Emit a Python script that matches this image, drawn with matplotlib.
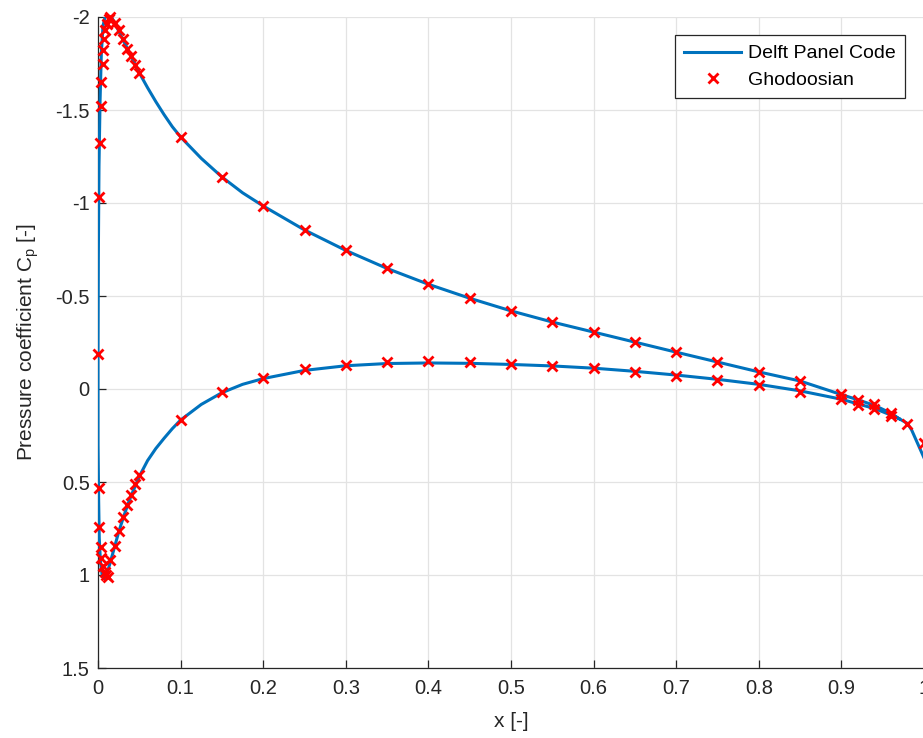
import matplotlib
matplotlib.use("Agg")
import matplotlib.pyplot as plt

plt.rcParams["font.family"] = ["Liberation Sans", "DejaVu Sans"]
plt.rcParams["mathtext.default"] = "regular"

# Delft panel code result: upper surface (TE -> LE), then lower surface (LE -> TE)
panel_upper_x = [1.0, 0.99, 0.985, 0.98, 0.97, 0.96, 0.94, 0.92, 0.9, 0.85, 0.8, 0.75,
                 0.7, 0.65, 0.6, 0.55, 0.5, 0.45, 0.4, 0.35, 0.3, 0.25, 0.2, 0.175, 0.15,
                 0.125, 0.1, 0.09, 0.08, 0.07, 0.06, 0.05, 0.04, 0.03, 0.02, 0.015, 0.01,
                 0.006, 0.004, 0.0025, 0.0012, 0.0004, 0.0]
panel_upper_cp = [0.37, 0.27, 0.22, 0.185, 0.16, 0.13, 0.088, 0.058, 0.03, -0.043, -0.092,
                  -0.145, -0.198, -0.252, -0.306, -0.36, -0.42, -0.488, -0.563, -0.648,
                  -0.745, -0.855, -0.984, -1.055, -1.14, -1.24, -1.355, -1.41, -1.475,
                  -1.545, -1.62, -1.70, -1.79, -1.88, -1.97, -2.01, -2.03, -1.95, -1.8,
                  -1.55, -1.2, -0.7, -0.2]
panel_lower_x = [0.0, 0.0008, 0.0015, 0.003, 0.005, 0.008, 0.011, 0.015, 0.02, 0.025,
                 0.03, 0.035, 0.04, 0.05, 0.06, 0.07, 0.08, 0.09, 0.1, 0.125, 0.15, 0.175,
                 0.2, 0.25, 0.3, 0.35, 0.4, 0.45, 0.5, 0.55, 0.6, 0.65, 0.7, 0.75, 0.8,
                 0.85, 0.9, 0.94, 0.96, 0.97]
panel_lower_cp = [0.3, 0.6, 0.8, 0.93, 1.0, 1.02, 0.99, 0.93, 0.85, 0.77, 0.70, 0.635,
                  0.575, 0.47, 0.385, 0.32, 0.265, 0.213, 0.167, 0.083, 0.02, -0.025,
                  -0.056, -0.1, -0.125, -0.137, -0.14, -0.138, -0.132, -0.124, -0.112,
                  -0.095, -0.075, -0.052, -0.025, 0.01, 0.055, 0.105, 0.14, 0.16]

# Ghodoosian reference data
ghod_upper_x = [0.0, 0.0008, 0.0028, 0.0036, 0.0042, 0.0055, 0.0065, 0.0078, 0.009,
                0.0105, 0.013, 0.015, 0.02, 0.025, 0.03, 0.035, 0.04, 0.045, 0.05, 0.1,
                0.15, 0.2, 0.25, 0.3, 0.35, 0.4, 0.45, 0.5, 0.55, 0.6, 0.65, 0.7, 0.75,
                0.8, 0.85, 0.9, 0.92, 0.94, 0.96, 0.98, 1.0]
ghod_upper_cp = [-0.19, -1.03, -1.32, -1.52, -1.65, -1.75, -1.82, -1.88, -1.93, -1.96,
                 -1.99, -2.0, -1.97, -1.93, -1.88, -1.83, -1.79, -1.74, -1.70, -1.355,
                 -1.14, -0.984, -0.855, -0.747, -0.65, -0.565, -0.49, -0.42, -0.36,
                 -0.306, -0.253, -0.199, -0.145, -0.091, -0.043, 0.027, 0.059, 0.081,
                 0.129, 0.19, 0.29]
ghod_lower_x = [0.0016, 0.0016, 0.0036, 0.004, 0.0057, 0.008, 0.0096, 0.012, 0.015, 0.02,
                0.025, 0.03, 0.035, 0.04, 0.045, 0.05, 0.1, 0.15, 0.2, 0.25, 0.3, 0.35,
                0.4, 0.45, 0.5, 0.55, 0.6, 0.65, 0.7, 0.75, 0.8, 0.85, 0.9, 0.92, 0.94,
                0.96]
ghod_lower_cp = [0.53, 0.74, 0.85, 0.91, 0.95, 0.985, 1.0, 1.01, 0.92, 0.845, 0.765, 0.69,
                 0.625, 0.57, 0.51, 0.465, 0.167, 0.016, -0.059, -0.108, -0.129, -0.145,
                 -0.15, -0.145, -0.134, -0.124, -0.113, -0.091, -0.07, -0.048, -0.021,
                 0.016, 0.054, 0.086, 0.108, 0.145]

x_ticks = [0, 0.1, 0.2, 0.3, 0.4, 0.5, 0.6, 0.7, 0.8, 0.9, 1]
x_tick_labels = ["0", "0.1", "0.2", "0.3", "0.4", "0.5", "0.6", "0.7", "0.8", "0.9", "1"]
y_ticks = [-2, -1.5, -1, -0.5, 0, 0.5, 1, 1.5]
y_tick_labels = ["-2", "-1.5", "-1", "-0.5", "0", "0.5", "1", "1.5"]

W, H = 923, 738
fig = plt.figure(figsize=(W / 100, H / 100), dpi=100)
ax = fig.add_axes([98 / W, 1 - 668 / H, (924 - 98) / W, (668 - 17) / H])

line_x = panel_upper_x + panel_lower_x
line_cp = panel_upper_cp + panel_lower_cp
ax.plot(line_x, line_cp, color="#0072BD", lw=2.2, label="Delft Panel Code", zorder=3)
ax.plot(ghod_upper_x + ghod_lower_x, ghod_upper_cp + ghod_lower_cp, ls="none",
        marker="x", ms=7, mew=2, color="#FF0000", label="Ghodoosian", zorder=4,
        clip_on=False)

ax.set_xlim(0, 1)
ax.set_ylim(1.5, -2)
ax.set_xticks(x_ticks)
ax.set_xticklabels(x_tick_labels)
ax.set_yticks(y_ticks)
ax.set_yticklabels(y_tick_labels)

ax.grid(True, color="#e3e3e3", lw=0.9)
ax.set_axisbelow(True)
for side in ["top", "right"]:
    ax.spines[side].set_visible(False)
for side in ["left", "bottom"]:
    ax.spines[side].set_color("#262626")
    ax.spines[side].set_linewidth(0.9)
ax.tick_params(direction="in", length=6, width=0.9, color="#262626",
               labelcolor="#262626", labelsize=14.5)
ax.tick_params(axis="x", pad=8)
ax.tick_params(axis="y", pad=6)

ax.set_xlabel("x [-]", fontsize=15, color="#262626", labelpad=10)
ax.set_ylabel("Pressure coefficient C$_p$ [-]", fontsize=15, color="#262626", labelpad=10)

leg = ax.legend(loc="upper right", bbox_to_anchor=(905 / W, 1 - 35 / H),
                bbox_transform=fig.transFigure, borderaxespad=0, fontsize=14,
                handlelength=2.9, handletextpad=0.35, labelspacing=0.45,
                fancybox=False, framealpha=1, edgecolor="#262626",
                borderpad=0.5)
leg.get_frame().set_linewidth(0.9)

fig.savefig("out.png", dpi=100)
